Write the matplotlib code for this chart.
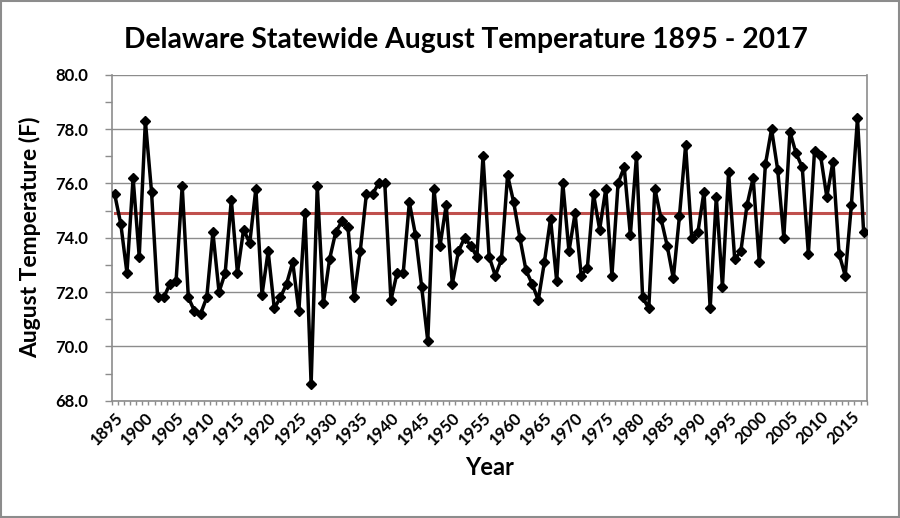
import matplotlib
matplotlib.use("Agg")
import matplotlib.pyplot as plt
from matplotlib.patches import Rectangle
from matplotlib.ticker import MultipleLocator, FixedLocator
import numpy as np

# data
years = np.arange(1895, 2018)
temps = [
    75.6, 74.5, 72.7, 76.2, 73.3, 78.3, 75.7, 71.8, 71.8, 72.3,
    72.4, 75.9, 71.8, 71.3, 71.2, 71.8, 74.2, 72.0, 72.7, 75.4,
    72.7, 74.3, 73.8, 75.8, 71.9, 73.5, 71.4, 71.8, 72.3, 73.1,
    71.3, 74.9, 68.6, 75.9, 71.6, 73.2, 74.2, 74.6, 74.4, 71.8,
    73.5, 75.6, 75.6, 76.0, 76.0, 71.7, 72.7, 72.7, 75.3, 74.1,
    72.2, 70.2, 75.8, 73.7, 75.2, 72.3, 73.5, 74.0, 73.7, 73.3,
    77.0, 73.3, 72.6, 73.2, 76.3, 75.3, 74.0, 72.8, 72.3, 71.7,
    73.1, 74.7, 72.4, 76.0, 73.5, 74.9, 72.6, 72.9, 75.6, 74.3,
    75.8, 72.6, 76.0, 76.6, 74.1, 77.0, 71.8, 71.4, 75.8, 74.7,
    73.7, 72.5, 74.8, 77.4, 74.0, 74.2, 75.7, 71.4, 75.5, 72.2,
    76.4, 73.2, 73.5, 75.2, 76.2, 73.1, 76.7, 78.0, 76.5, 74.0,
    77.9, 77.1, 76.6, 73.4, 77.2, 77.0, 75.5, 76.8, 73.4, 72.6,
    75.2, 78.4, 74.2,
]
mean_temp = 74.9
label_years = list(range(1895, 2016, 5))

plt.rcParams['font.family'] = ['Lato', 'DejaVu Sans']

fig = plt.figure(figsize=(9.0, 5.18), dpi=100)
ax = fig.add_axes([0.124, 0.2265, 0.839, 0.6293])

# grey frame round the whole picture
fig.patches.append(Rectangle((0.001, 0.001), 0.998, 0.997, transform=fig.transFigure,
                             fill=False, edgecolor='#8c8c8c', linewidth=1.5))

ax.plot(years, temps, color='black', linewidth=2.5, marker='D', markersize=5.5,
        zorder=3)
ax.plot([years[0], years[-1]], [mean_temp, mean_temp], color='#c0504d',
        linewidth=2.2, zorder=2)

ax.set_xlim(1894.5, 2017.5)
ax.set_ylim(68, 80)

ax.yaxis.set_major_locator(MultipleLocator(2))
ax.yaxis.set_minor_locator(MultipleLocator(1))
ax.yaxis.set_major_formatter(matplotlib.ticker.FormatStrFormatter('%.1f'))
ax.grid(axis='y', which='major', color='#8c8c8c', linewidth=1.0, zorder=0)

ax.xaxis.set_major_locator(FixedLocator(label_years))
ax.xaxis.set_minor_locator(FixedLocator(np.arange(1894.5, 2018, 1.0)))
ax.set_xticklabels([str(y) for y in label_years], rotation=45, ha='right',
                   rotation_mode='anchor', fontweight='bold', fontsize=12)
ax.tick_params(axis='x', which='major', length=0, pad=6)
ax.tick_params(axis='x', which='minor', length=3, width=1, color='#8c8c8c')
ax.tick_params(axis='y', which='both', length=5, width=1, color='#8c8c8c',
               labelsize=12, pad=12)
for lab in ax.get_yticklabels():
    lab.set_fontweight('bold')

for side in ['left', 'bottom', 'right']:
    ax.spines[side].set_color('#8c8c8c')
    ax.spines[side].set_linewidth(1.2)
ax.spines['top'].set_visible(False)

fig.text(0.518, 0.922, 'Delaware Statewide August Temperature 1895 - 2017',
         fontsize=20.3, fontweight='bold', ha='center', va='center')
ax.set_ylabel('August Temperature (F)', fontsize=16.5, fontweight='bold', labelpad=10)
ax.set_xlabel('Year', fontsize=17, fontweight='bold', labelpad=6)

fig.savefig('out.png', dpi=100)
